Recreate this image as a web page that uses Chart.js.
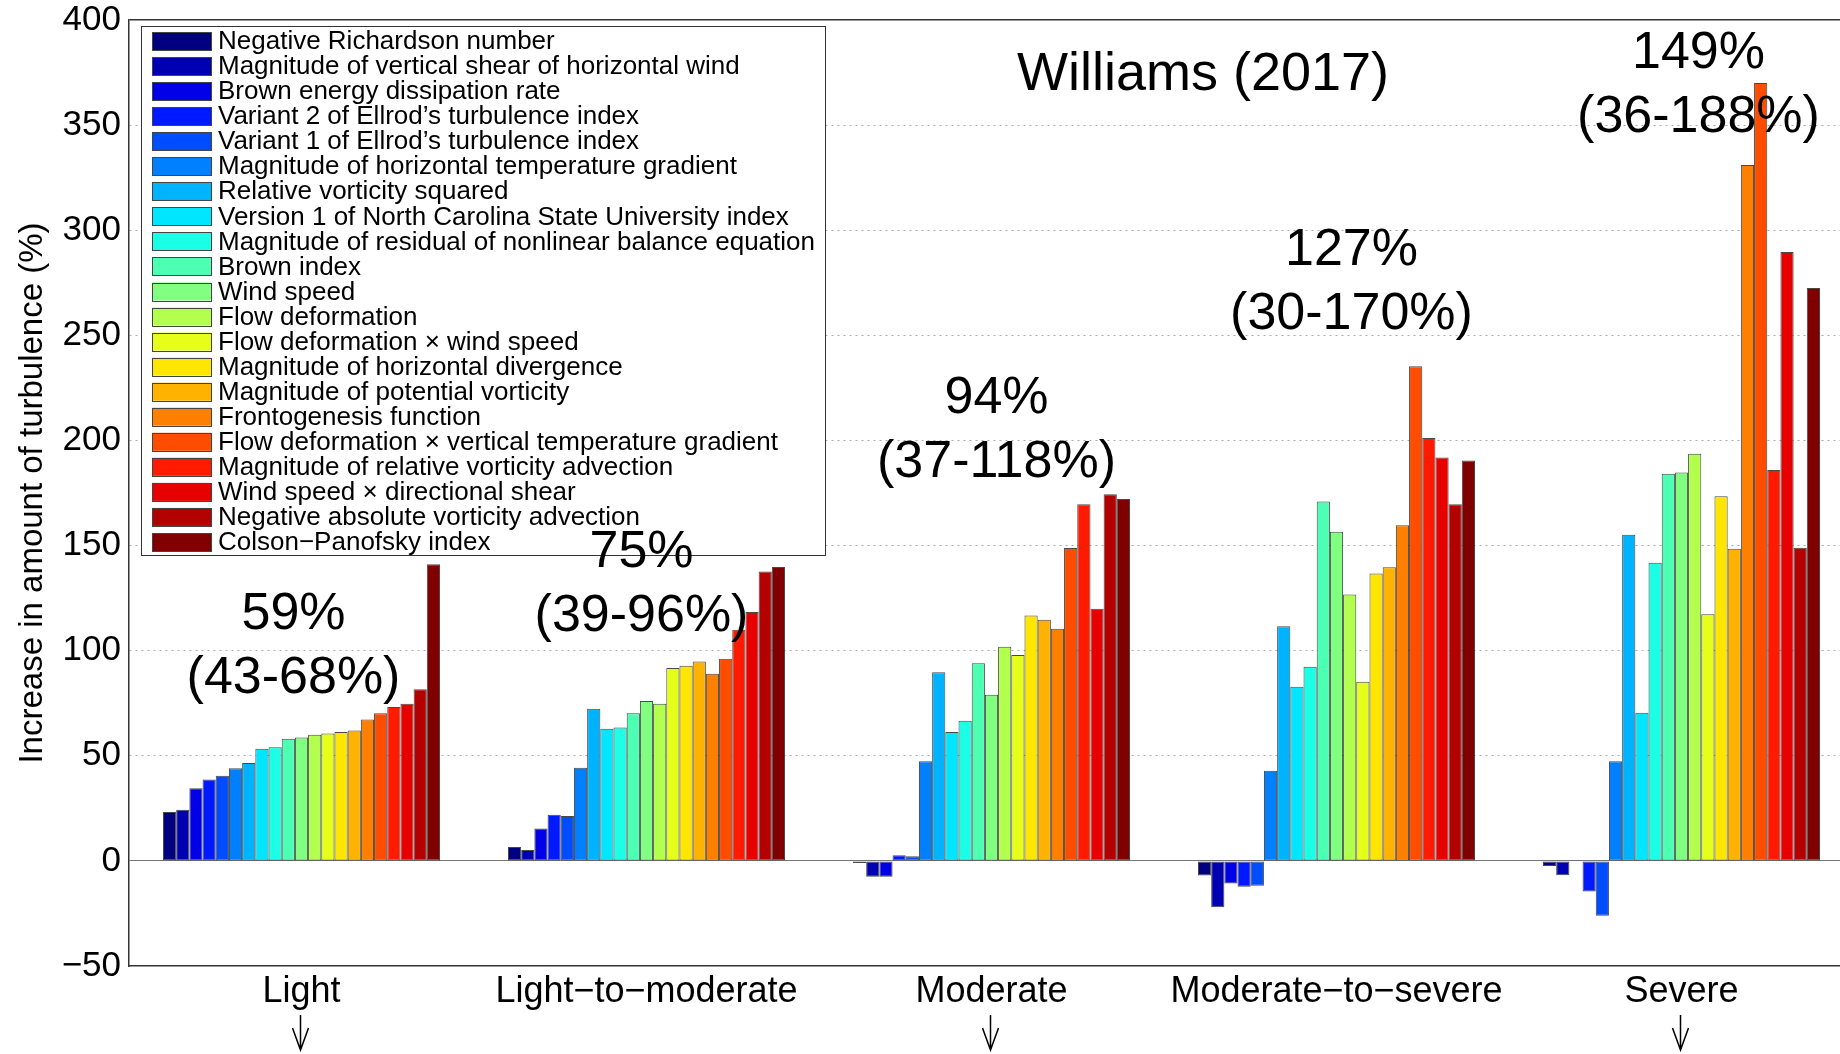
<!DOCTYPE html>
<html>
<head>
<meta charset="utf-8">
<title>Increase in amount of turbulence</title>
<script src="https://cdn.jsdelivr.net/npm/chart.js@4.4.0/dist/chart.umd.min.js"></script>
<style>
  html, body { margin: 0; padding: 0; background: #fff; overflow: hidden; }
  #wrap { position: absolute; left: 0; top: 0; width: 1856px; height: 1054px; }
</style>
</head>
<body>
<div id="wrap"><canvas id="turbChart"></canvas></div>
<script>
// severity categories (x axis)
var categories = ['Light', 'Light\u2212to\u2212moderate', 'Moderate', 'Moderate\u2212to\u2212severe', 'Severe'];

// the 21 turbulence diagnostics
var indexNames = [
  'Negative Richardson number',
  'Magnitude of vertical shear of horizontal wind',
  'Brown energy dissipation rate',
  'Variant 2 of Ellrod\u2019s turbulence index',
  'Variant 1 of Ellrod\u2019s turbulence index',
  'Magnitude of horizontal temperature gradient',
  'Relative vorticity squared',
  'Version 1 of North Carolina State University index',
  'Magnitude of residual of nonlinear balance equation',
  'Brown index',
  'Wind speed',
  'Flow deformation',
  'Flow deformation \u00d7 wind speed',
  'Magnitude of horizontal divergence',
  'Magnitude of potential vorticity',
  'Frontogenesis function',
  'Flow deformation \u00d7 vertical temperature gradient',
  'Magnitude of relative vorticity advection',
  'Wind speed \u00d7 directional shear',
  'Negative absolute vorticity advection',
  'Colson\u2212Panofsky index'
];

// % increase per diagnostic, one array per severity
var light = [23.3, 24.3, 34.5, 38.7, 40.5, 44.1, 46.6, 53.4, 54.0, 58.1, 58.7, 60.0, 60.6, 61.3, 62.0, 67.2, 70.2, 73.2, 74.8, 81.6, 141.1];
var lightToModerate = [6.6, 5.2, 15.4, 21.9, 21.4, 44.3, 72.4, 62.8, 63.5, 70.2, 76.1, 74.8, 91.8, 92.8, 94.8, 89.0, 96.1, 109.9, 118.4, 137.6, 139.8];
var moderate = [-1.0, -7.5, -7.5, 2.7, 2.2, 47.4, 89.7, 61.3, 66.7, 94.0, 79.0, 101.9, 97.9, 116.7, 114.7, 110.4, 148.8, 169.7, 119.9, 174.4, 172.2];
var moderateToSevere = [-7.0, -22.0, -10.7, -12.3, -11.8, 42.9, 111.6, 82.8, 92.3, 171.0, 156.6, 126.7, 85.2, 136.7, 139.7, 159.6, 235.3, 201.2, 191.9, 169.6, 190.5];
var severe = [-2.4, -6.8, 0.3, -14.6, -26.1, 47.4, 155.1, 70.5, 141.8, 184.1, 184.8, 193.7, 117.3, 173.4, 148.5, 331.0, 370.0, 186.0, 289.7, 149.0, 272.5];

// y tick labels
var yTicks = [-50, 0, 50, 100, 150, 200, 250, 300, 350, 400];

// multi-model mean and range written above each group
var meanLabels = ['59%', '75%', '94%', '127%', '149%'];
var rangeLabels = ['(43-68%)', '(39-96%)', '(37-118%)', '(30-170%)', '(36-188%)'];
var arrowUnder = [true, false, true, false, true];

// jet colormap, 21 steps
var jet = ['#000080', '#0000b3', '#0000e6', '#001aff', '#004dff', '#0080ff', '#00b3ff', '#00e6ff',
  '#1affe6', '#4dffb3', '#80ff80', '#b3ff4d', '#e6ff1a', '#ffe600', '#ffb300', '#ff8000',
  '#ff4d00', '#ff1a00', '#e60000', '#b30000', '#800000'];

var FONT = '"Liberation Sans", Arial, Helvetica, sans-serif';
Chart.defaults.font.family = FONT;
Chart.defaults.color = '#000';

var datasets = indexNames.map(function (name, i) {
  return {
    label: name,
    data: [light[i], lightToModerate[i], moderate[i], moderateToSevere[i], severe[i]],
    backgroundColor: jet[i],
    borderColor: 'rgba(40,40,40,0.85)',
    borderWidth: 1,
    borderSkipped: false,
    categoryPercentage: 0.803,
    barPercentage: 1.0
  };
});

// legend box drawn in the upper left of the plot
var legendBox = {
  id: 'legendBox',
  afterDatasetsDraw: function (chart) {
    var ctx = chart.ctx, area = chart.chartArea;
    var row = 25.05;
    ctx.save();
    ctx.font = '26px ' + FONT;
    var maxW = 0;
    chart.data.datasets.forEach(function (ds) { maxW = Math.max(maxW, ctx.measureText(ds.label).width); });
    var x0 = area.left + 12, y0 = area.top + 6;
    var w = 77 + maxW + 10, h = 15 + 20 * row + 13;
    ctx.fillStyle = '#fff';
    ctx.fillRect(x0, y0, w, h);
    ctx.strokeStyle = '#333';
    ctx.lineWidth = 1;
    ctx.strokeRect(Math.round(x0) + 0.5, Math.round(y0) + 0.5, Math.round(w), Math.round(h));
    ctx.textBaseline = 'middle';
    ctx.textAlign = 'left';
    chart.data.datasets.forEach(function (ds, i) {
      var cy = y0 + 15 + i * row;
      ctx.fillStyle = ds.backgroundColor;
      ctx.fillRect(x0 + 11, cy - 9, 59, 18);
      ctx.strokeStyle = '#444';
      ctx.strokeRect(Math.round(x0 + 11) + 0.5, Math.round(cy - 9) + 0.5, 59, 18);
      ctx.fillStyle = '#000';
      ctx.fillText(ds.label, x0 + 77, cy + 1);
    });
    ctx.restore();
  }
};

// group mean/range text, the title and the arrows below some categories
var annotationY = [117, 146.5, 220, 290.5, 384];
var annotationDx = [-8, -5, 5, 15, 17];
var notes = {
  id: 'notes',
  afterDraw: function (chart) {
    var ctx = chart.ctx, area = chart.chartArea;
    var xs = chart.scales.x, ys = chart.scales.y;
    ctx.save();
    ctx.fillStyle = '#000';
    ctx.textAlign = 'center';
    ctx.textBaseline = 'middle';
    ctx.font = '52px ' + FONT;
    meanLabels.forEach(function (m, i) {
      var x = xs.getPixelForValue(i) + annotationDx[i];
      var y = ys.getPixelForValue(annotationY[i]);
      ctx.fillText(m, x, y);
      ctx.fillText(rangeLabels[i], x, y + 64);
    });
    ctx.font = '54px ' + FONT;
    ctx.fillText('Williams (2017)', area.left + 0.6226 * (area.right - area.left), ys.getPixelForValue(374));

    ctx.strokeStyle = '#000';
    ctx.lineWidth = 1.5;
    arrowUnder.forEach(function (on, i) {
      if (!on) return;
      var x = Math.round(xs.getPixelForValue(i)) - 1.5;
      var y1 = area.bottom + 49, y2 = area.bottom + 84;
      ctx.beginPath();
      ctx.moveTo(x, y1); ctx.lineTo(x, y2);
      ctx.moveTo(x - 8, y2 - 22); ctx.lineTo(x, y2); ctx.lineTo(x + 8, y2 - 22);
      ctx.stroke();
    });
    ctx.restore();
  }
};

var ctx = document.getElementById('turbChart').getContext('2d');
var turbChart = new Chart(ctx, {
  type: 'bar',
  data: { labels: categories, datasets: datasets },
  options: {
    responsive: true,
    maintainAspectRatio: false,
    animation: false,
    layout: { padding: { top: 20, right: 2, left: 0, bottom: 0 } },
    plugins: { legend: { display: false }, tooltip: { enabled: false } },
    scales: {
      x: {
        afterFit: function (s) { s.height = 88; },
        grid: { display: true, drawOnChartArea: false, drawTicks: false, color: 'rgba(0,0,0,0)' },
        border: { display: true, color: '#333', width: 1.5 },
        ticks: { font: { size: 36 }, color: '#000', padding: 4, maxRotation: 0, autoSkip: false }
      },
      y: {
        min: -50,
        max: 400,
        afterFit: function (s) { s.width = 129; s.paddingTop = 0; s.paddingBottom = 0; },
        afterBuildTicks: function (s) { s.ticks = yTicks.map(function (v) { return { value: v }; }); },
        ticks: {
          font: { size: 35, lineHeight: 1 },
          color: '#000',
          padding: 8,
          callback: function (v) { return String(v).replace('-', '\u2212'); }
        },
        grid: {
          drawTicks: false,
          color: function (c) {
            var v = c.tick && c.tick.value;
            if (v === -50) return 'rgba(0,0,0,0)';
            if (v === 400) return '#333';
            if (v === 0) return '#777';
            return '#aaa';
          },
          lineWidth: function (c) { return c.tick && c.tick.value === 400 ? 1.5 : 1; }
        },
        border: {
          display: true, color: '#333', width: 1.5,
          dash: function (c) {
            var v = c.tick && c.tick.value;
            return (v === 0 || v === 400) ? [] : [2, 4];
          }
        },
        title: {
          display: true,
          text: 'Increase in amount of turbulence (%)',
          font: { size: 33 },
          color: '#000',
          padding: { top: 13, bottom: 0 }
        }
      }
    }
  },
  plugins: [legendBox, notes]
});
</script>
</body>
</html>
